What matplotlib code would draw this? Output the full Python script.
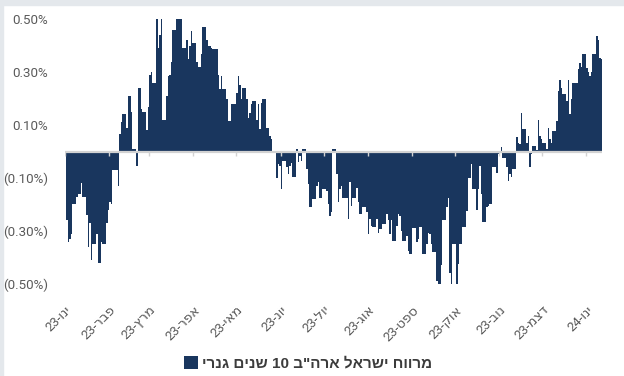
import re
import pandas as pd
import matplotlib
matplotlib.use("Agg")
import matplotlib.pyplot as plt
from matplotlib.patches import Rectangle

# daily spread, percent (trading days from 2 Jan 2023)
spread = [
    -0.26, -0.34, -0.33, -0.31, -0.20, -0.17, -0.16, -0.16, -0.12, -0.17,
    -0.24, -0.36, -0.27, -0.41, -0.35, -0.31, -0.42, -0.42, -0.34, -0.35,
    -0.27, -0.22, -0.19, -0.20, -0.07, -0.07, -0.13, 0.065, 0.11, 0.14,
    0.09, 0.21, 0.21, 0.15, 0.01, -0.055, 0.24, 0.24, 0.16, 0.15,
    0.08, 0.17, 0.29, 0.30, 0.26, 0.50, 0.39, 0.44, 0.50, 0.12,
    0.21, 0.285, 0.29, 0.34, 0.46, 0.50, 0.50, 0.50, 0.50, 0.39,
    0.42, 0.35, 0.40, 0.455, 0.41, 0.34, 0.32, 0.32, 0.37, 0.47,
    0.42, 0.40, 0.40, 0.39, 0.386, 0.386, 0.29, 0.235, 0.285, 0.235,
    0.20, 0.116, 0.116, 0.18, 0.18, 0.22, 0.285, 0.25, 0.20, 0.24,
    0.20, 0.128, 0.147, 0.18, 0.19, 0.12, 0.18, 0.084, 0.185, 0.197,
    0.09, 0.09, 0.06, 0.047, 0.003, -0.10, -0.048, -0.054, -0.142, -0.035,
    -0.06, -0.086, -0.054, -0.045, -0.098, 0.01, -0.04, -0.016, -0.035, 0.008,
    -0.067, -0.123, -0.21, -0.21, -0.18, -0.13, -0.117, -0.174, -0.174, -0.142,
    -0.148, -0.20, -0.243, -0.23, 0.01, -0.086, -0.19, -0.142, -0.13, -0.174,
    -0.174, -0.255, -0.117, -0.205, -0.174, -0.136, -0.19, -0.236, -0.236, -0.21,
    -0.23, -0.31, -0.255, -0.28, -0.287, -0.255, -0.306, -0.293, -0.293, -0.274,
    -0.236, -0.26, -0.31, -0.26, -0.337, -0.28, -0.236, -0.243, -0.30, -0.337,
    -0.318, -0.375, -0.387, -0.387, -0.29, -0.343, -0.33, -0.287, -0.287, -0.387,
    -0.35, -0.306, -0.31, -0.35, -0.38, -0.488, -0.50, -0.50, -0.43, -0.26,
    -0.21, -0.174, -0.46, -0.50, -0.35, -0.50, -0.425, -0.35, -0.35, -0.287,
    -0.224, -0.10, -0.10, -0.048, -0.14, -0.22, -0.142, -0.054, -0.161, -0.268,
    -0.21, -0.205, -0.199, -0.199, -0.06, -0.08, -0.01, -0.005, 0.018, -0.023,
    -0.06, -0.11, -0.086, -0.098, -0.067, 0.053, 0.034, 0.028, 0.147, 0.084,
    0.034, 0.06, -0.06, -0.01, 0.02, 0.005, 0.12, 0.06, 0.047, 0.034,
    0.01, 0.09, 0.047, 0.034, 0.078, 0.116, 0.23, 0.27, 0.24, 0.216,
    0.19, 0.27, 0.14, 0.197, 0.26, 0.26, 0.31, 0.336, 0.32, 0.37,
    0.317, 0.30, 0.285, 0.30, 0.37, 0.437, 0.42, 0.355, 0.35,
]
start_date = "2023-01-02"
month_names = ["ינו", "פבר", "מרץ", "אפר", "מאי", "יונ", "יול",
               "אוג", "ספט", "אוק", "נוב", "דצמ", "ינו"]
month_years = ["23"] * 12 + ["24"]
series_name = 'מרווח ישראל ארה"ב 10 שנים גנרי'
y_ticks = [-0.5, -0.3, -0.1, 0.1, 0.3, 0.5]

NAVY = "#19365e"
GRID = "#d2d2d2"
TXT = "#5a5a5a"


def rtl(s):
    # matplotlib has no bidi: lay the Hebrew out right-to-left, keep numbers as is
    r = s[::-1]
    return re.sub(r"\d+", lambda m: m.group(0)[::-1], r)


def pct(v):
    return f"{v:.2f}%" if v > 0 else f"({-v:.2f}%)"


dates = pd.bdate_range(start_date, periods=len(spread))
widths = list((dates[1:] - dates[:-1]).days) + [1]
months = pd.date_range("2023-01-01", periods=len(month_names), freq="MS")

fig = plt.figure(figsize=(6.24, 3.76), dpi=100)
fig.patches.append(Rectangle((0, 0.988), 1, 0.012, transform=fig.transFigure,
                             color="#e4e8ec", zorder=0))
fig.patches.append(Rectangle((0, 0), 0.005, 1, transform=fig.transFigure,
                             color="#e4e8ec", zorder=0))

ax = fig.add_axes([0.104, 0.245, 0.861, 0.704])
ax.bar(dates, spread, width=widths, align="edge", color=NAVY,
       linewidth=0, label=rtl(series_name), zorder=2)

ax.axhline(0, color=GRID, lw=1.6, zorder=3)
ax.vlines(months, -0.016, 0, color=GRID, lw=1, zorder=3)

ax.set_ylim(-0.5, 0.5)
ax.set_xlim(pd.Timestamp("2023-01-01"), dates[-1] + pd.Timedelta(days=1))
for s in ax.spines.values():
    s.set_visible(False)

ax.set_yticks(y_ticks)
ax.set_yticklabels([pct(v) for v in y_ticks], fontsize=9.6, color=TXT,
                   family=["Roboto", "DejaVu Sans"])
ax.tick_params(axis="y", length=0, pad=12)

ax.set_xticks(months)
ax.set_xticklabels([rtl(f"{m}-{y}") for m, y in zip(month_names, month_years)],
                   rotation=45, ha="right", rotation_mode="anchor",
                   fontsize=9.5, color=TXT, family=["Roboto", "DejaVu Sans"])
ax.tick_params(axis="x", length=0, pad=14)

fig.legend(loc="lower center", bbox_to_anchor=(0.494, -0.022), frameon=False,
           handlelength=0.9, handleheight=0.9, handletextpad=0.3,
           prop={"family": ["Liberation Sans", "DejaVu Sans"],
                 "weight": "bold", "size": 11}, labelcolor="#3c3c3c")

fig.savefig("out.png", dpi=100, facecolor="white")
